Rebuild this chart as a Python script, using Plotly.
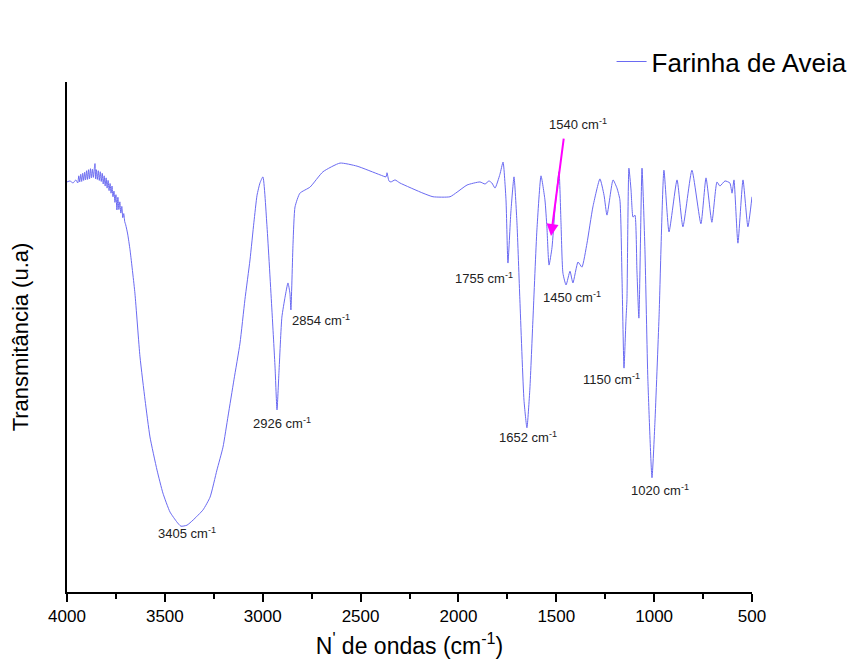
import plotly.graph_objects as go

# Wavenumber (cm^-1) and transmittance (arbitrary units)
wavenumber = [
    4000, 3985, 3969, 3955, 3945, 3940, 3935, 3930, 3925, 3920, 3915, 3910, 3905, 3900,
    3895, 3890, 3885, 3880, 3875, 3870, 3865, 3860, 3857, 3854, 3850, 3845, 3840, 3835,
    3830, 3825, 3820, 3815, 3810, 3805, 3800, 3795, 3790, 3785, 3780, 3775, 3770, 3765,
    3760, 3755, 3750, 3745, 3740, 3735, 3730, 3725, 3720, 3715, 3710, 3705, 3700, 3690,
    3678, 3653, 3627, 3601, 3576, 3540, 3510, 3474, 3438, 3418, 3387, 3356, 3305, 3269,
    3234, 3203, 3177, 3147, 3116, 3091, 3065, 3045, 3029, 3014, 2999, 2978, 2953, 2937,
    2927, 2917, 2902, 2886, 2871, 2861, 2856, 2845, 2835, 2810, 2758, 2692, 2605, 2518,
    2401, 2370, 2365, 2355, 2345, 2324, 2299, 2181, 2130, 2043, 2007, 1956, 1890, 1864,
    1844, 1829, 1813, 1788, 1772, 1757, 1747, 1732, 1716, 1701, 1686, 1665, 1650, 1635,
    1619, 1599, 1578, 1558, 1548, 1537, 1522, 1507, 1486, 1476, 1466, 1450, 1430, 1415,
    1389, 1369, 1343, 1313, 1277, 1256, 1241, 1210, 1190, 1175, 1164, 1154, 1144, 1139,
    1129, 1118, 1108, 1098, 1088, 1078, 1062, 1047, 1032, 1011, 996, 975, 950, 924,
    883, 853, 807, 761, 735, 705, 679, 664, 638, 613, 602, 592, 572, 546, 521, 500,
]
transmittance = [
    80.4, 80.6, 80.2, 80.8, 80.2, 81.6, 80.4, 81.9, 80.5, 82.1, 80.7, 82.3, 80.8, 82.6,
    80.9, 82.8, 81.0, 83.0, 81.2, 82.9, 81.3, 83.2, 84.0, 81.0, 82.8, 80.9, 82.6, 80.7,
    82.4, 80.5, 82.1, 80.0, 81.6, 79.6, 81.2, 79.2, 80.7, 78.7, 80.1, 78.2, 79.6, 77.5,
    78.6, 76.4, 77.9, 74.9, 77.4, 75.0, 76.5, 74.3, 75.6, 73.4, 74.2, 72.6, 72.0, 70.2,
    67.1, 58.6, 46.1, 37.6, 30.4, 23.9, 19.4, 15.7, 13.7, 12.9, 13.1, 14.1, 16.1, 18.6,
    23.9, 28.4, 34.5, 41.6, 48.8, 57.3, 65.1, 72.5, 77.8, 80.2, 81.4, 71.6, 55.3, 44.1,
    35.7, 43.1, 53.9, 57.8, 60.6, 58.6, 55.3, 68.4, 75.5, 78.2, 79.4, 82.4, 84.1, 83.5,
    81.8, 81.4, 82.2, 80.6, 80.4, 80.8, 80.2, 78.2, 77.5, 77.5, 78.4, 79.8, 80.4, 80.0,
    80.6, 80.2, 79.2, 81.9, 84.3, 76.9, 64.5, 74.5, 81.4, 72.4, 57.3, 37.6, 32.2, 39.8,
    53.7, 71.0, 81.6, 76.9, 71.6, 64.1, 67.5, 74.9, 82.4, 72.5, 62.5, 60.2, 62.9, 60.6,
    64.7, 63.7, 68.4, 75.5, 81.0, 77.8, 73.9, 80.8, 79.2, 76.9, 61.2, 43.9, 53.3, 57.3,
    83.1, 78.8, 73.5, 73.9, 63.1, 53.7, 83.1, 67.1, 41.6, 22.4, 33.3, 53.9, 82.7, 70.6,
    80.8, 71.6, 82.7, 72.2, 81.2, 72.5, 80.4, 79.6, 80.6, 80.2, 78.2, 80.8, 68.4, 80.8, 71.6, 77.5,
]

# Peak labels: (label, x position, y position)
peak_labels = ["3405", "2926", "2854", "1755", "1450", "1652", "1150", "1020"]
peak_label_x = [3387, 2902, 2702, 1869, 1420, 1645, 1216, 970]
peak_label_y = [11.6, 33.1, 53.3, 61.6, 57.8, 30.4, 41.8, 20.0]

arrow_label = "1540"
arrow_head = (1527, 69.8)
arrow_tail = (1461, 89.2)
arrow_label_pos = (1389, 91.8)

xticks = [4000, 3500, 3000, 2500, 2000, 1500, 1000, 500]

FONT = "Arial, Liberation Sans, sans-serif"

fig = go.Figure()
fig.add_trace(go.Scatter(
    x=wavenumber, y=transmittance, mode="lines",
    name="Farinha de Aveia",
    line=dict(color="#6a6af2", width=1, shape="spline", smoothing=0.5),
))

for lab, lx, ly in zip(peak_labels, peak_label_x, peak_label_y):
    fig.add_annotation(x=lx, y=ly, text=f"{lab} cm<sup>-1</sup>", showarrow=False,
                       font=dict(family=FONT, size=13, color="#222222"))

fig.add_annotation(x=arrow_label_pos[0], y=arrow_label_pos[1],
                   text=f"{arrow_label} cm<sup>-1</sup>", showarrow=False,
                   font=dict(family=FONT, size=13, color="#222222"))
fig.add_annotation(x=arrow_head[0], y=arrow_head[1], ax=arrow_tail[0], ay=arrow_tail[1],
                   xref="x", yref="y", axref="x", ayref="y", text="",
                   showarrow=True, arrowhead=2, arrowsize=1.2, arrowwidth=2,
                   arrowcolor="#ff00ff")

fig.update_layout(
    width=854, height=668,
    margin=dict(l=67, r=102, t=82, b=76, autoexpand=False),
    paper_bgcolor="white", plot_bgcolor="white",
    font=dict(family=FONT, color="black"),
    showlegend=True,
    legend=dict(x=0.795, y=1.04, xanchor="left", yanchor="middle",
                font=dict(family=FONT, size=26, color="black"),
                bgcolor="rgba(0,0,0,0)", itemwidth=30),
    xaxis=dict(
        range=[4000, 500], tickvals=xticks, ticktext=[str(v) for v in xticks],
        showline=True, linecolor="black", linewidth=2,
        ticks="outside", ticklen=8, tickwidth=1.5, tickcolor="black",
        minor=dict(dtick=250, ticks="outside", ticklen=5, tickwidth=1.5, tickcolor="black"),
        showgrid=False, zeroline=False,
        tickfont=dict(family=FONT, size=17, color="black"),
        title=dict(text="N<sup>'</sup> de ondas (cm<sup>-1</sup>)",
                   font=dict(family=FONT, size=23, color="black"), standoff=12),
    ),
    yaxis=dict(
        range=[0, 100], showline=True, linecolor="black", linewidth=2,
        showticklabels=False, ticks="", showgrid=False, zeroline=False,
        title=dict(text="Transmitância (u.a)",
                   font=dict(family=FONT, size=22, color="black"), standoff=30),
    ),
)

fig.write_html("out.html")
